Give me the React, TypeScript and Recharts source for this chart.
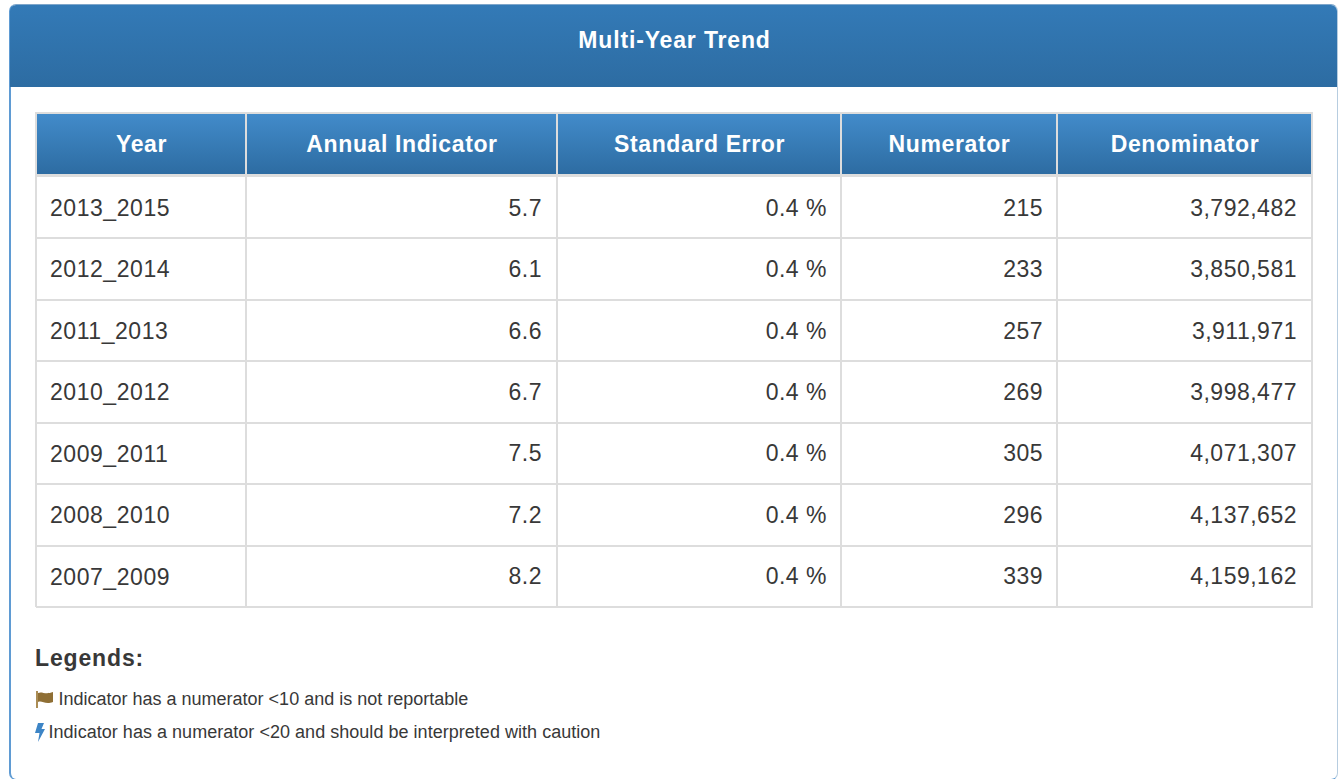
import React from "react";
import { ComposedChart, Bar, XAxis, YAxis, CartesianGrid, LabelList } from "recharts";

const years = ["2013_2015", "2012_2014", "2011_2013", "2010_2012", "2009_2011", "2008_2010", "2007_2009"];
const indicators = [5.7, 6.1, 6.6, 6.7, 7.5, 7.2, 8.2];
const standardErrors = [0.4, 0.4, 0.4, 0.4, 0.4, 0.4, 0.4];
const numerators = [215, 233, 257, 269, 305, 296, 339];
const denominators = [3792482, 3850581, 3911971, 3998477, 4071307, 4137652, 4159162];
const headers = ["Year", "Annual Indicator", "Standard Error", "Numerator", "Denominator"];
const legends = [
  "Indicator has a numerator <10 and is not reportable",
  "Indicator has a numerator <20 and should be interpreted with caution",
];

const rows = years.map((year, i) => ({
  year,
  indicator: indicators[i],
  standardError: standardErrors[i],
  numerator: numerators[i],
  denominator: denominators[i],
}));

const FONT = '"Liberation Sans", Arial, sans-serif';
const TEXT = "#383838";
const LINE = "#dddddd";
const colEdges = [35, 246, 557, 841, 1057, 1312];

const cellLabel = (rightX: number, format: (v: number) => string) => (p: any) => (
  <text
    x={rightX}
    y={p.y + p.height / 2}
    dy="0.36em"
    textAnchor="end"
    fontFamily={FONT}
    fontSize={23}
    letterSpacing={0.5}
    fill={TEXT}
  >
    {format(p.value)}
  </text>
);

const YearTick = (p: any) => (
  <text x={50} y={p.y} dy="0.36em" fontFamily={FONT} fontSize={23} letterSpacing={0.55} fill={TEXT}>
    {p.payload.value}
  </text>
);

const abs = (x: number, y: number, w: number, h: number): React.CSSProperties => ({
  position: "absolute",
  left: x,
  top: y,
  width: w,
  height: h,
  boxSizing: "border-box",
});

export default function App() {
  return (
    <div style={{ position: "fixed", left: 0, top: 0, width: 1338, height: 779, overflow: "hidden", background: "#fff", fontFamily: FONT }}>
      {/* panel */}
      <div
        style={{
          ...abs(9, 4, 1329, 776),
          borderRadius: 7,
          borderStyle: "solid",
          borderWidth: "1px 1px 1px 2px",
          borderColor: "#7ea6cb #b7cde0 #5f9bd3 #5f9bd3",
          background: "#fff",
        }}
      />
      <div
        style={{
          ...abs(10, 5, 1327, 82),
          borderRadius: "6px 6px 0 0",
          background: "linear-gradient(to bottom, #337ab7 0%, #2d6ca2 100%)",
          color: "#fff",
          fontWeight: 700,
          fontSize: 23,
          letterSpacing: 0.85,
          textAlign: "center",
          lineHeight: "71px",
          paddingLeft: 2,
        }}
      >
        Multi-Year Trend
      </div>

      {/* table header */}
      <div style={{ ...abs(35, 112, 1278, 65), background: LINE }} />
      {headers.map((h, i) => (
        <div
          key={h}
          style={{
            ...abs(colEdges[i] + (i === 0 ? 2 : 1), 114, colEdges[i + 1] - colEdges[i] - (i === 0 ? 3 : 2), 60),
            background: "linear-gradient(to bottom, #428bca 0%, #2d6ca2 100%)",
            color: "#fff",
            fontWeight: 700,
            fontSize: 23,
            letterSpacing: 0.62,
            textAlign: "center",
            lineHeight: "60px",
            paddingLeft: 1,
          }}
        >
          {h}
        </div>
      ))}

      {/* table body */}
      <div style={{ position: "absolute", left: 0, top: 0 }}>
        <ComposedChart
          width={1338}
          height={779}
          data={rows}
          layout="vertical"
          barCategoryGap={0}
          margin={{ top: 177, bottom: 172, left: 0, right: 25 }}
        >
          <CartesianGrid
            stroke={LINE}
            strokeWidth={2}
            horizontalPoints={[238, 300, 361, 423, 484, 546, 607]}
            verticalPoints={[36, 246, 557, 841, 1057, 1312]}
          />
          <XAxis type="number" hide />
          <YAxis
            type="category"
            dataKey="year"
            width={36}
            axisLine={false}
            tickLine={false}
            interval={0}
            tick={<YearTick />}
          />
          <Bar dataKey="indicator" stackId="row" fill="none" isAnimationActive={false}>
            <LabelList dataKey="indicator" content={cellLabel(542, (v) => v.toFixed(1))} />
          </Bar>
          <Bar dataKey="standardError" stackId="row" fill="none" isAnimationActive={false}>
            <LabelList dataKey="standardError" content={cellLabel(827, (v) => `${v.toFixed(1)} %`)} />
          </Bar>
          <Bar dataKey="numerator" stackId="row" fill="none" isAnimationActive={false}>
            <LabelList dataKey="numerator" content={cellLabel(1043, (v) => String(v))} />
          </Bar>
          <Bar dataKey="denominator" stackId="row" fill="none" isAnimationActive={false}>
            <LabelList dataKey="denominator" content={cellLabel(1297, (v) => v.toLocaleString("en-US"))} />
          </Bar>
        </ComposedChart>
      </div>

      {/* legends */}
      <div style={{ position: "absolute", left: 35, top: 645, fontWeight: 700, fontSize: 23, letterSpacing: 0.85, lineHeight: "26px", color: TEXT }}>
        Legends:
      </div>
      <svg style={{ ...abs(35, 690, 19, 18) }} viewBox="0 0 19 18">
        <rect x="1" y="1" width="2" height="17" fill="#ab8d55" />
        <path d="M3 3 C7 1 10 5 18 2 L18 12 C10 15 7 10 3 12 Z" fill="#8f6f35" />
      </svg>
      <div style={{ position: "absolute", left: 58.5, top: 688, fontSize: 18, lineHeight: "22px", color: TEXT, whiteSpace: "nowrap" }}>{legends[0]}</div>
      <svg style={{ ...abs(35, 723, 10, 19) }} viewBox="0 0 10 19">
        <path d="M3 0 L9 0 L6.5 6 L10 6 L3 19 L4.5 10 L0 10 Z" fill="#3d85c6" />
      </svg>
      <div style={{ position: "absolute", left: 48.5, top: 721, fontSize: 18, letterSpacing: 0.03, lineHeight: "22px", color: TEXT, whiteSpace: "nowrap" }}>{legends[1]}</div>
    </div>
  );
}
